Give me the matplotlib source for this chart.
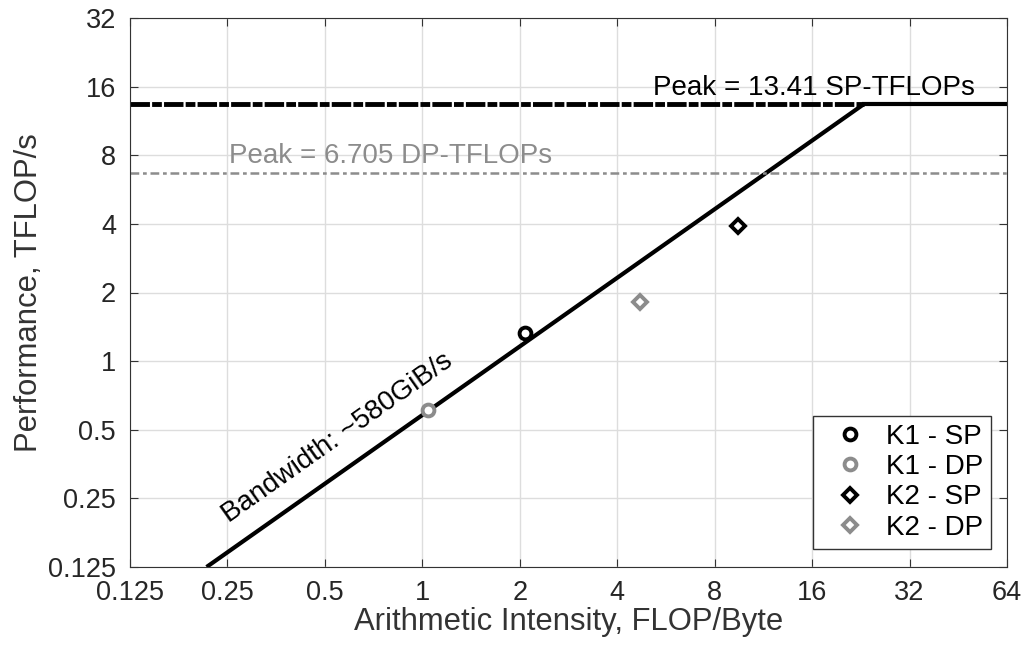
import matplotlib
matplotlib.use("Agg")
import matplotlib.pyplot as plt
import numpy as np

plt.rcParams['font.family'] = ['Liberation Sans', 'DejaVu Sans']

# data
ticks = [0.125, 0.25, 0.5, 1, 2, 4, 8, 16, 32, 64]
tick_labels = ['0.125', '0.25', '0.5', '1', '2', '4', '8', '16', '32', '64']
yticks = [0.125, 0.25, 0.5, 1, 2, 4, 8, 16, 32]
ytick_labels = ['0.125', '0.25', '0.5', '1', '2', '4', '8', '16', '32']

peak_sp = 13.41
peak_dp = 6.705
bandwidth = 0.58  # TFLOP/s per FLOP/Byte

names = ['K1 - SP', 'K1 - DP', 'K2 - SP', 'K2 - DP']
intensity = [2.08, 1.04, 9.46, 4.71]
perf = [1.33, 0.61, 3.93, 1.82]
markers = ['o', 'o', 'D', 'D']
colors = ['black', '#8c8c8c', 'black', '#8c8c8c']

fig = plt.figure(figsize=(10.27, 6.49), dpi=100)
ax = fig.add_axes([130/1027, 1-567/649, 877/1027, 549/649])

ax.set_xscale('log', base=2)
ax.set_yscale('log', base=2)
ax.set_xlim(0.125, 64)
ax.set_ylim(0.125, 32)

# roofline
ridge = peak_sp / bandwidth
x0 = 0.125 / bandwidth
ax.plot([x0, ridge], [bandwidth * x0, peak_sp], color='black', lw=3, solid_capstyle='butt')
ax.plot([ridge, 64], [peak_sp, peak_sp], color='black', lw=3)
ax.plot([0.125, ridge], [peak_sp, peak_sp], color='black', lw=3.5, dashes=(4, 0.45, 2, 0.45))
ax.plot([0.125, 64], [peak_dp, peak_dp], color='#8c8c8c', lw=1.8, dashes=(3.5, 1.5, 1.5, 1.5))

for x, y, m, c, n in zip(intensity, perf, markers, colors, names):
    ms = 8.5 if m == 'o' else 7.5
    ax.plot(x, y, linestyle='none', marker=m, markersize=ms, markerfacecolor='white',
            markeredgecolor=c, markeredgewidth=2.8, label=n)

ax.text(51, peak_sp * 1.035, 'Peak = 13.41 SP-TFLOPs', ha='right', va='bottom', fontsize=20)
ax.text(0.253, peak_dp * 1.035, 'Peak = 6.705 DP-TFLOPs', ha='left', va='bottom',
        fontsize=20, color='#8c8c8c')
ax.text(0.26, 0.185, 'Bandwidth: ~580GiB/s', rotation=35.2, rotation_mode='anchor',
        ha='left', va='bottom', fontsize=20)

ax.set_xticks(ticks)
ax.set_xticklabels(tick_labels)
ax.set_yticks(yticks)
ax.set_yticklabels(ytick_labels)
ax.minorticks_off()
ax.tick_params(direction='in', labelsize=19.5, top=True, right=True, length=6, width=0.8,
               color='#333333', labelcolor='#262626')
ax.tick_params(axis='y', pad=10)
ax.tick_params(axis='x', pad=9)
ax.grid(True, color='#dddddd', lw=1)
ax.set_axisbelow(True)
for s in ax.spines.values():
    s.set_color('#333333')

ax.set_xlabel('Arithmetic Intensity, FLOP/Byte', fontsize=22.3, color='#333333', labelpad=1)
ax.set_ylabel('Performance, TFLOP/s', fontsize=22.3, color='#333333', labelpad=3)

leg = ax.legend(loc='lower right', bbox_to_anchor=(0.982, 0.033), borderaxespad=0,
                fontsize=20, fancybox=False, edgecolor='#333333', framealpha=1,
                handlelength=2.0, labelspacing=0.15, borderpad=0.3, handletextpad=0.3)
leg.get_frame().set_linewidth(1)

fig.savefig('out.png', dpi=100)
